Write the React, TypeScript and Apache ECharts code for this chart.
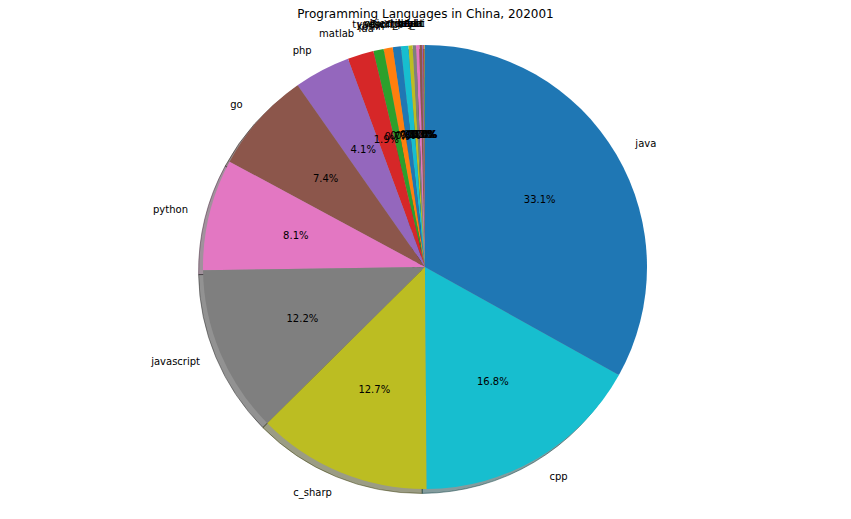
import React, { useEffect, useRef } from "react";
import * as echarts from "echarts";

// Ascending order (drawn counter-clockwise from 12 o'clock)
const languages = [
  "delphi", "dart", "visual_basic", "rust", "scala", "objective_c", "perl", "ruby", "r",
  "typescript", "swift", "kotlin", "lua", "matlab", "php", "go", "python",
  "javascript", "c_sharp", "cpp", "java",
];
const shares = [
  0.03, 0.03, 0.04, 0.05, 0.07, 0.19, 0.24, 0.25, 0.3,
  0.54, 0.59, 0.66, 0.75, 1.9, 4.1, 7.4, 8.1,
  12.2, 12.7, 16.8, 33.1,
];
const titleText = "Programming Languages in China, 202001";

const tab10 = [
  "#1f77b4", "#ff7f0e", "#2ca02c", "#d62728", "#9467bd",
  "#8c564b", "#e377c2", "#7f7f7f", "#bcbd22", "#17becf",
];

function shadowOf(hex: string): string {
  const r = parseInt(hex.slice(1, 3), 16) * 0.3;
  const g = parseInt(hex.slice(3, 5), 16) * 0.3;
  const b = parseInt(hex.slice(5, 7), 16) * 0.3;
  return `rgba(${r.toFixed(0)},${g.toFixed(0)},${b.toFixed(0)},0.5)`;
}

export default function App() {
  const ref = useRef<HTMLDivElement>(null);
  useEffect(() => {
    if (!ref.current) return;
    const chart = echarts.init(ref.current, undefined, { renderer: "svg" });
    const total = shares.reduce((a, b) => a + b, 0);
    const R = 222;
    const cx = 425;
    const cy = 267;
    const font = "DejaVu Sans";
    const mainData = languages.map((name, i) => ({
      name,
      value: shares[i],
      itemStyle: { color: tab10[i % 10] },
    }));
    const shadowData = languages.map((name, i) => ({
      name,
      value: shares[i],
      itemStyle: {
        color: shadowOf(tab10[i % 10]),
        borderColor: shadowOf(tab10[i % 10]),
        borderWidth: 1,
      },
    }));
    chart.setOption({
      animation: false,
      textStyle: { fontFamily: font },
      title: {
        text: titleText,
        left: "center",
        top: 3,
        textStyle: { fontSize: 12, fontWeight: "normal", color: "#000", fontFamily: font },
      },
      series: [
        {
          type: "pie",
          silent: true,
          center: [cx - 4.4, cy + 4.4],
          radius: [0, R],
          startAngle: 90,
          clockwise: false,
          avoidLabelOverlap: false,
          label: { show: false },
          labelLine: { show: false },
          emphasis: { disabled: true },
          data: shadowData,
          z: 1,
        },
        {
          type: "pie",
          center: [cx, cy],
          radius: [0, R],
          startAngle: 90,
          clockwise: false,
          avoidLabelOverlap: false,
          minShowLabelAngle: 0,
          itemStyle: { borderWidth: 0 },
          labelLayout: { hideOverlap: false },
          label: {
            show: true,
            position: "outside",
            distanceToLabelLine: 0,
            fontSize: 10,
            color: "#000",
            fontFamily: font,
            formatter: "{b}",
          },
          labelLine: { show: false, length: 22, length2: 0 },
          emphasis: { disabled: true },
          data: mainData,
          z: 2,
        },
        {
          type: "pie",
          silent: true,
          center: [cx, cy],
          radius: [38, R],
          startAngle: 90,
          clockwise: false,
          avoidLabelOverlap: false,
          minShowLabelAngle: 0,
          labelLayout: { hideOverlap: false },
          itemStyle: { color: "rgba(0,0,0,0)", borderWidth: 0 },
          label: {
            show: true,
            position: "inside",
            fontSize: 10,
            color: "#000",
            fontFamily: font,
            formatter: (p: any) => ((p.value / total) * 100).toFixed(1) + "%",
          },
          labelLine: { show: false },
          emphasis: { disabled: true },
          data: languages.map((name, i) => ({ name, value: shares[i] })),
          z: 3,
        },
      ],
    });
    return () => chart.dispose();
  }, []);
  return (
    <div
      ref={ref}
      style={{ position: "fixed", left: 0, top: 0, width: 851, height: 519, background: "#fff" }}
    />
  );
}
